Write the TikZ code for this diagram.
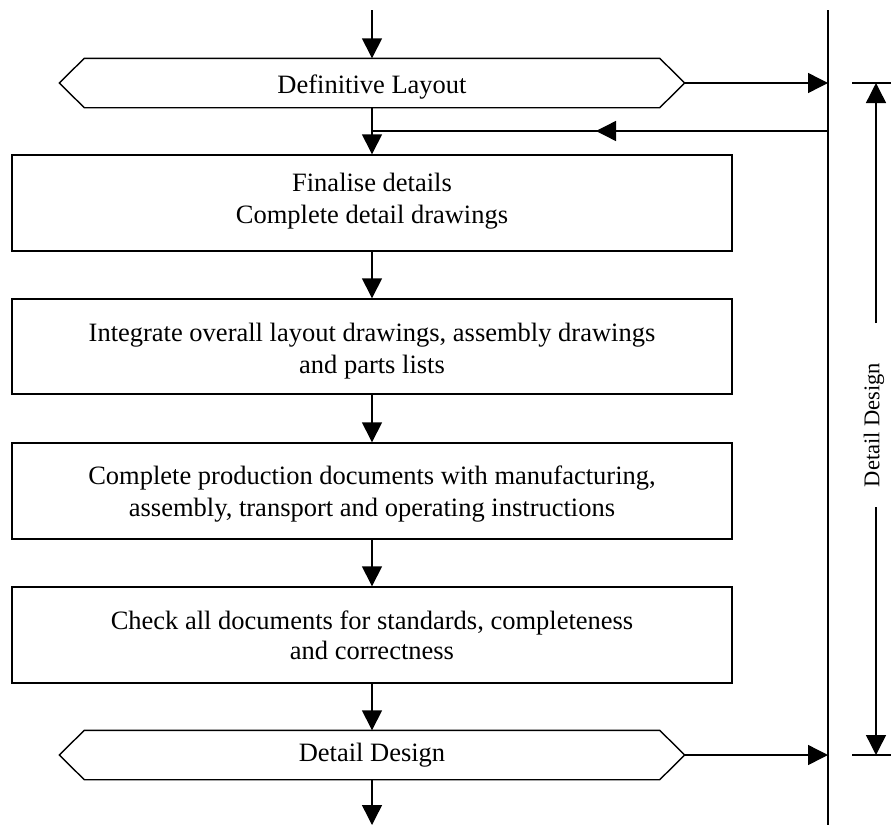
\documentclass[tikz,border=0pt]{standalone}
\usepackage{fontspec}
\setmainfont{Liberation Serif}
\usetikzlibrary{arrows.meta}
\begin{document}
\begin{tikzpicture}[x=1pt,y=-1pt,
  line width=1.4pt,
  tip/.style={-{Triangle[length=20pt,width=20pt]}},
  stepbox/.style={draw, rectangle, minimum width=720pt, minimum height=96pt, inner sep=0pt},
  steptext/.style={inner sep=0pt, align=center, font=\fontsize{26.5}{32}\selectfont},
  hexlabel/.style={rectangle, minimum width=624pt, minimum height=48pt, inner sep=0pt},
  hextext/.style={inner sep=0pt, font=\fontsize{26.5}{32}\selectfont},
  hexout/.style={line join=miter}]
\useasboundingbox (0,0) rectangle (891,825);
% main flow shapes
\node[hexlabel] (h1) at (372,83) {};
\node[stepbox] (b1) at (372,203) {};
\node[stepbox, minimum height=95pt] (b2) at (372,346.5) {};
\node[stepbox] (b3) at (372,491) {};
\node[stepbox] (b4) at (372,635) {};
\node[hexlabel] (h2) at (372,755) {};
% texts
\node[hextext] (h1t) at ([yshift=-4pt]h1.center) {Definitive Layout};
\node[steptext] (b1t) at ([yshift=2pt]b1.center) {Finalise details\\Complete detail drawings};
\node[steptext] (b2t) at ([yshift=-5pt]b2.center) {Integrate overall layout drawings, assembly drawings\\and parts lists};
\node[steptext] (b3t) at ([yshift=-3pt]b3.center) {Complete production documents with manufacturing,\\assembly, transport and operating instructions};
\node[steptext, font=\fontsize{26.5}{30}\selectfont] (b4t) at ([yshift=0pt]b4.center) {Check all documents for standards, completeness\\and correctness};
\node[hextext] (h2t) at (h2.center) {Detail Design};
% hexagon outlines
\foreach \h in {h1,h2}{
  \draw[hexout] (\h.west) -- ([xshift=25pt]\h.north west) -- ([xshift=-25pt]\h.north east) -- (\h.east)
    -- ([xshift=-25pt]\h.south east) -- ([xshift=25pt]\h.south west) -- cycle;
}
% vertical bar on the right
\coordinate (vtop) at (828,10);
\coordinate (vbot) at (828,825);
\draw (vtop) -- (vbot);
% flow arrows
\coordinate (top) at (372,10);
\coordinate (bot) at (372,825);
\draw[tip] (top) -- (h1.north);
\draw[tip] (h1.south) -- (b1.north);
\draw[tip] (b1.south) -- (b2.north);
\draw[tip] (b2.south) -- (b3.north);
\draw[tip] (b3.south) -- (b4.north);
\draw[tip] (b4.south) -- (h2.north);
\draw[tip] (h2.south) -- (bot);
\draw[tip] (h1.east) -- (h1.east -| vtop);
\draw[tip] (h2.east) -- (h2.east -| vtop);
% feedback
\coordinate (fb) at (828,131);
\coordinate (fbj) at (372,131);
\coordinate (fbtip) at (596,131);
\draw (fb) -- (fbj);
\draw[tip] (fb) -- (fbtip);
% dimension
\coordinate (t1l) at (852,83);
\coordinate (t1r) at (891,83);
\coordinate (t2l) at (852,755);
\coordinate (t2r) at (891,755);
\draw (t1l) -- (t1r);
\draw (t2l) -- (t2r);
\node[rotate=90, inner sep=0pt, font=\fontsize{22.5}{26}\selectfont] (dl) at (874,425) {Detail Design};
\coordinate (d1) at (876,323);
\coordinate (d2) at (876,507);
\draw[tip] (d1) -- (t1l -| d1);
\draw[tip] (d2) -- (t2l -| d2);
\end{tikzpicture}
\end{document}
